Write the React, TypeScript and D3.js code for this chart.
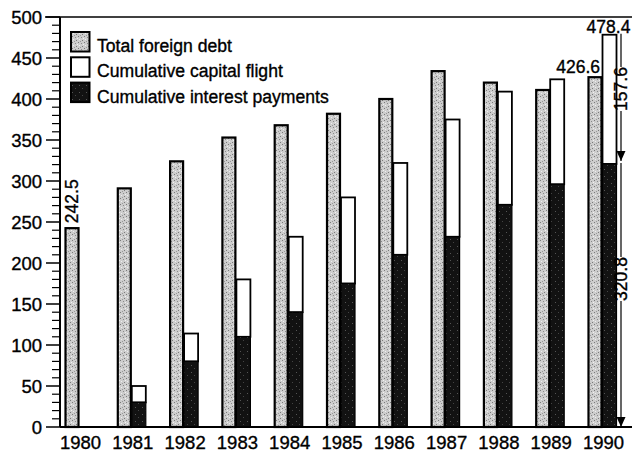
import React from "react";
import * as d3 from "d3";

const years = ["1980","1981","1982","1983","1984","1985","1986","1987","1988","1989","1990"];
const totalDebt = [242.5, 291, 324, 353, 368, 382, 400, 434, 420, 411, 426.6];
const interestPayments = [0, 30, 80, 110, 140, 175, 210, 232, 271, 296, 320.8];
const capitalFlight = [0, 20, 34, 70, 92, 105, 112, 143, 138, 128, 157.6];
const yTicks = [0, 50, 100, 150, 200, 250, 300, 350, 400, 450, 500];
const legendItems = ["Total foreign debt", "Cumulative capital flight", "Cumulative interest payments"];

const W = 635;
const H = 456;
const FONT = "'Liberation Sans', Arial, Helvetica, sans-serif";
const txt = { fill: "#000", stroke: "#000", strokeWidth: 0.35 };

export default function App() {
  const y = d3.scaleLinear().domain([0, 500]).range([427, 17]);
  const x = d3.scaleBand<string>().domain(years).range([52.85, 52.85 + 11 * 52.3]).padding(0);
  const minorTicks = d3.range(0, 501, 10).filter((v) => v % 50 !== 0);
  const axisX = 60;
  const center = (yr: string) => (x(yr) as number) + x.bandwidth() / 2;
  const totW = 13;
  const stkW = 14;

  const last = years.length - 1;
  const cx90 = center(years[last]);
  const annX = 621;
  const yTop = y(interestPayments[last] + capitalFlight[last]);
  const yMid = y(interestPayments[last]);
  const yBot = y(0);

  return (
    <svg width={W} height={H} style={{ position: "absolute", left: 0, top: 0, background: "#fff" }} fontFamily={FONT}>
      <defs>
        <pattern id="stip" width="6" height="6" patternUnits="userSpaceOnUse">
          <rect width="6" height="6" fill="#cdcdcd" />
          <rect x="0" y="0" width="1" height="1" fill="#7a7a7a" />
          <rect x="3" y="1" width="1" height="1" fill="#8a8a8a" />
          <rect x="1" y="3" width="1" height="1" fill="#eeeeee" />
          <rect x="4" y="4" width="1" height="1" fill="#7a7a7a" />
          <rect x="5" y="2" width="1" height="1" fill="#f2f2f2" />
          <rect x="2" y="5" width="1" height="1" fill="#999" />
        </pattern>
        <pattern id="dark" width="7" height="7" patternUnits="userSpaceOnUse">
          <rect width="7" height="7" fill="#121212" />
          <rect x="2" y="1" width="1" height="1" fill="#555" />
          <rect x="5" y="4" width="1" height="1" fill="#444" />
        </pattern>
        <marker id="arr" viewBox="0 0 10 9" refX="10" refY="4.5" markerWidth="10" markerHeight="9" markerUnits="userSpaceOnUse" orient="auto">
          <path d="M0,0 L10,4.5 L0,9 Z" fill="#000" />
        </marker>
      </defs>

      {/* bars */}
      {years.map((yr, i) => {
        const c = center(yr);
        const tTop = y(totalDebt[i]);
        const iTop = y(interestPayments[i]);
        const sTop = y(interestPayments[i] + capitalFlight[i]);
        return (
          <g key={yr}>
            <rect x={c - totW - 0.5} y={tTop} width={totW} height={y(0) - tTop} fill="url(#stip)" stroke="#000" strokeWidth={2.2} />
            {interestPayments[i] + capitalFlight[i] > 0 && (
              <g>
                <rect x={c + 0.5} y={sTop} width={stkW} height={iTop - sTop} fill="#fff" stroke="#000" strokeWidth={1.8} />
                <rect x={c + 0.5} y={iTop} width={stkW} height={y(0) - iTop} fill="url(#dark)" stroke="#000" strokeWidth={1.2} />
              </g>
            )}
          </g>
        );
      })}

      {/* axes */}
      <line x1={45} x2={632} y1={y(500)} y2={y(500)} stroke="#000" strokeWidth={1.5} />
      <line x1={axisX} x2={632} y1={y(0)} y2={y(0)} stroke="#000" strokeWidth={2.2} />
      <line x1={axisX} x2={axisX} y1={y(500)} y2={y(0)} stroke="#000" strokeWidth={2} />
      {yTicks.map((t) => (
        <g key={t}>
          <line x1={46} x2={axisX} y1={y(t)} y2={y(t)} stroke="#000" strokeWidth={1.5} />
          <text x={42} y={y(t)} dy="0.36em" textAnchor="end" fontSize={18.5} {...txt}>{t}</text>
        </g>
      ))}
      {minorTicks.map((t) => (
        <line key={t} x1={52} x2={axisX} y1={y(t)} y2={y(t)} stroke="#000" strokeWidth={1.2} />
      ))}
      {years.map((yr) => (
        <text key={yr} x={center(yr) + 1.5} y={449} textAnchor="middle" fontSize={18.5} {...txt}>{yr}</text>
      ))}

      {/* legend */}
      {legendItems.map((name, i) => {
        const by = 32 + i * 25.3;
        const fill = i === 0 ? "url(#stip)" : i === 1 ? "#fff" : "url(#dark)";
        return (
          <g key={name}>
            <rect x={71} y={by} width={18.5} height={19.5} fill={fill} stroke="#000" strokeWidth={2} />
            <text x={97} y={by + 20} fontSize={17.6} {...txt}>{name}</text>
          </g>
        );
      })}

      {/* value labels */}
      <text transform={`translate(${center(years[0]) - totW / 2 + 5},${y(totalDebt[0]) - 5}) rotate(-90)`} fontSize={17.5} {...txt}>{totalDebt[0]}</text>
      <text x={cx90 + 0.5 + stkW / 2 - 1} y={33} textAnchor="middle" fontSize={17.5} {...txt}>{(interestPayments[last] + capitalFlight[last]).toFixed(1)}</text>
      <text x={cx90 - 2} y={73} textAnchor="end" fontSize={17.5} {...txt}>{totalDebt[last]}</text>

      {/* annotation arrows */}
      <line x1={annX} x2={annX} y1={yTop - 1} y2={67} stroke="#000" strokeWidth={1.2} />
      <line x1={annX} x2={annX} y1={111} y2={yMid - 3} stroke="#000" strokeWidth={1.2} markerEnd="url(#arr)" />
      <text transform={`translate(${annX + 5.5},89) rotate(-90)`} textAnchor="middle" fontSize={17.5} {...txt}>{capitalFlight[last]}</text>
      <line x1={annX} x2={annX} y1={yMid - 1} y2={257} stroke="#000" strokeWidth={1.2} />
      <line x1={annX} x2={annX} y1={301} y2={yBot} stroke="#000" strokeWidth={1.2} markerEnd="url(#arr)" />
      <text transform={`translate(${annX + 5.5},279) rotate(-90)`} textAnchor="middle" fontSize={17.5} {...txt}>{interestPayments[last]}</text>
    </svg>
  );
}
